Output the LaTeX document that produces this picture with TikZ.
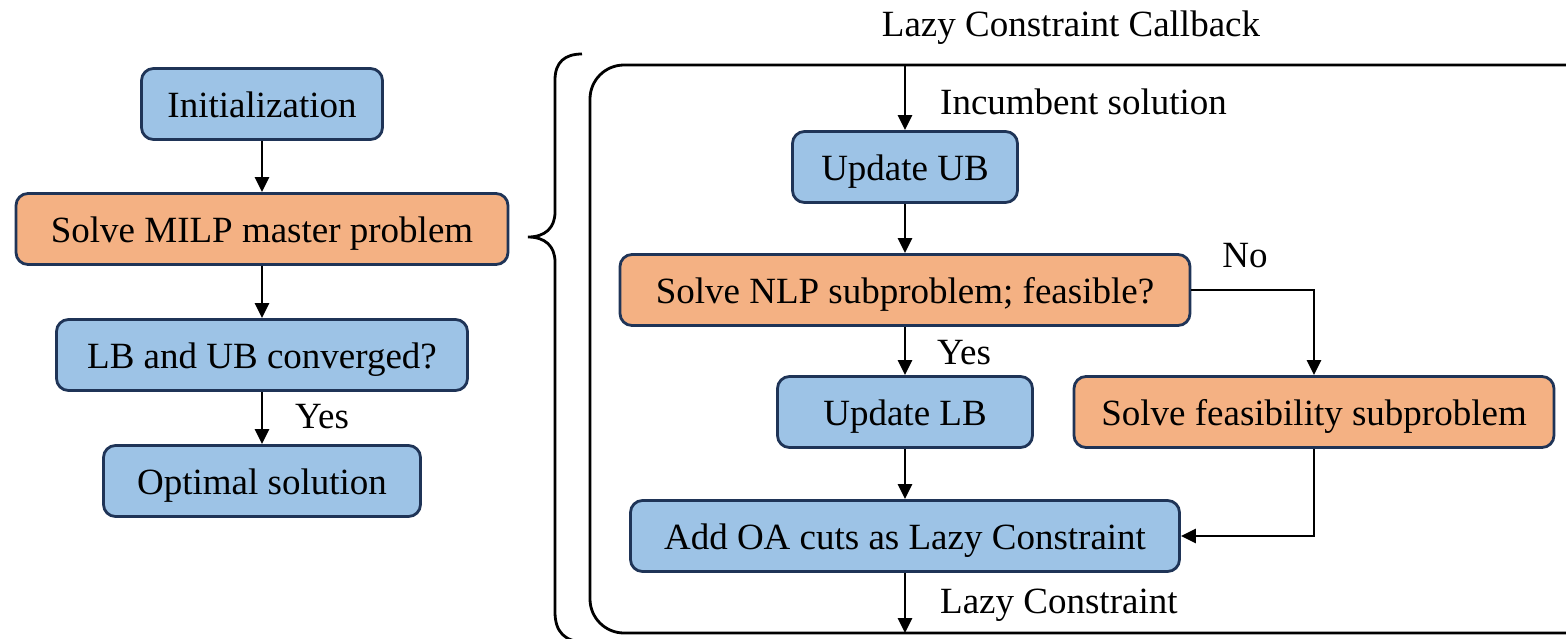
\documentclass[tikz,border=0pt]{standalone}
\usepackage{fontspec}
\setmainfont{Liberation Serif}
\usetikzlibrary{arrows.meta}
\definecolor{boxblue}{HTML}{9DC3E6}
\definecolor{boxorange}{HTML}{F4B183}
\definecolor{boxline}{HTML}{1F3457}
\tikzset{
  base/.style={draw=boxline, line width=2.8pt, rounded corners=12pt,
    minimum height=71pt, inner sep=0pt, text height=34pt, text depth=8pt,
    font=\fontsize{37}{44}\selectfont},
  bluebox/.style={base, fill=boxblue},
  orangebox/.style={base, fill=boxorange},
  lbl/.style={font=\fontsize{37}{44}\selectfont, inner sep=0pt},
  flow/.style={line width=2.8pt, -{Triangle[length=15pt,width=14pt]}},
  plain/.style={line width=2.8pt},
}
\begin{document}
\begin{tikzpicture}[x=1pt, y=-1pt]
\useasboundingbox (0,0) rectangle (1566,638);
\clip (0,0) rectangle (1566,638);

% main loop
\node[bluebox, minimum width=241pt] (init) at (262,104) {Initialization};
\node[orangebox, minimum width=492pt] (milp) at (262,229) {Solve MILP master problem};
\node[bluebox, minimum width=411pt] (conv) at (262,355) {LB and UB converged?};
\node[bluebox, minimum width=317pt] (opt) at (262,481) {Optimal solution};
\draw[flow] (init) -- (milp);
\draw[flow] (milp) -- (conv);
\draw[flow] (conv) -- (opt);
\node[lbl, anchor=west] (yes1) at (295,417) {Yes};

% brace
\draw[plain] (582,54) .. controls (565,54) and (555,62) .. (555,80)
  -- (555,212) .. controls (555,228) and (545,237) .. (528,237)
  .. controls (545,237) and (555,246) .. (555,262)
  -- (555,612) .. controls (555,632) and (565,642) .. (585,642);

% callback frame
\node[lbl] (title) at (1071,28) {Lazy Constraint Callback};
\draw[plain, rounded corners=34pt] (1600,65) -- (590,65) -- (590,633) -- (1600,633);
\coordinate (cbin) at (905,65);
\coordinate (cbout) at (905,633);

% callback steps
\node[bluebox, minimum width=225pt] (ub) at (905,167) {Update UB};
\node[orangebox, minimum width=570pt] (nlp) at (905,290) {Solve NLP subproblem; feasible?};
\node[bluebox, minimum width=255pt] (lb) at (905,412) {Update LB};
\node[orangebox, minimum width=480pt] (feas) at (1314,412) {Solve feasibility subproblem};
\node[bluebox, minimum width=549pt] (oa) at (905,536) {Add OA cuts as Lazy Constraint};

\draw[flow] (cbin) -- (ub);
\node[lbl, anchor=west] (inc) at (940,102) {Incumbent solution};
\draw[flow] (ub) -- (nlp);
\draw[flow] (nlp) -- (lb);
\node[lbl, anchor=west] (yes2) at (937,353) {Yes};
\draw[flow] (nlp.east) -| (feas.north);
\node[lbl] (no) at (1245,256) {No};
\draw[flow] (lb) -- (oa);
\draw[flow] (feas.south) |- (oa.east);
\draw[flow] (oa) -- (cbout);
\node[lbl, anchor=west] (lazy) at (940,605) {Lazy Constraint};
\end{tikzpicture}
\end{document}
